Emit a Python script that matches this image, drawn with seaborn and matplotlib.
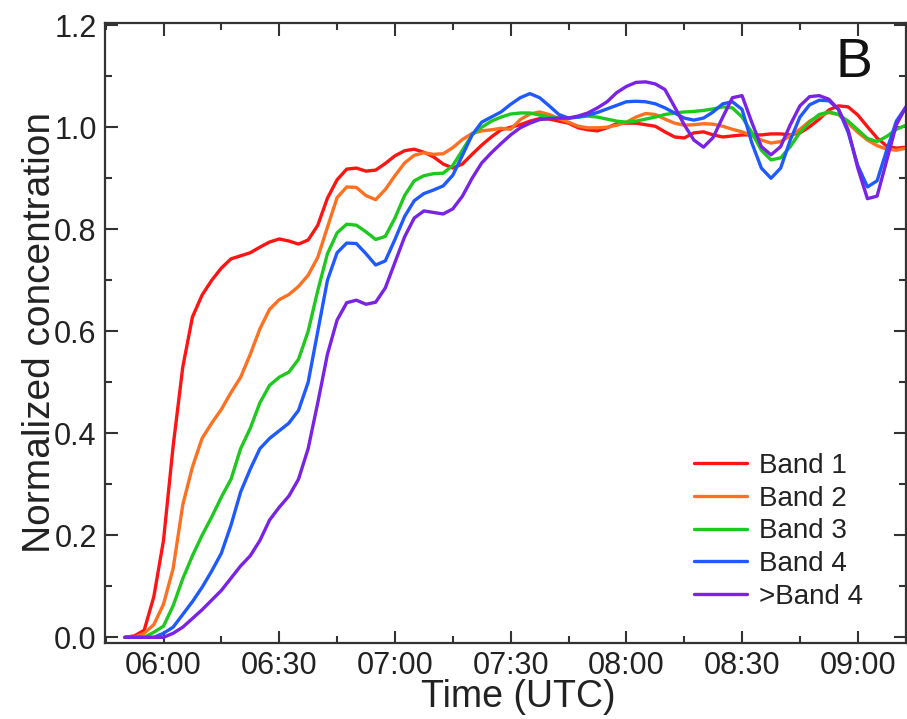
import numpy as np
import pandas as pd
import matplotlib
matplotlib.use("Agg")
import matplotlib.pyplot as plt
import matplotlib.dates as mdates
from matplotlib.ticker import MultipleLocator, FormatStrFormatter
import seaborn as sns

# Sampling times: every 2.5 minutes from 05:50 to 09:12:30 UTC
times = pd.date_range("2000-01-01 05:50:00", "2000-01-01 09:12:30", freq="150s")

band1 = [0.000, 0.003, 0.014, 0.080, 0.190, 0.375, 0.530, 0.628, 0.671, 0.700,
         0.724, 0.742, 0.748, 0.754, 0.765, 0.775, 0.781, 0.777, 0.771, 0.779,
         0.808, 0.861, 0.897, 0.918, 0.920, 0.914, 0.916, 0.929, 0.944, 0.954,
         0.957, 0.951, 0.942, 0.928, 0.920, 0.928, 0.947, 0.965, 0.981, 0.995,
         1.000, 1.005, 1.012, 1.017, 1.016, 1.012, 1.008, 0.999, 0.995, 0.993,
         0.999, 1.007, 1.008, 1.008, 1.005, 1.002, 0.991, 0.981, 0.979, 0.989,
         0.991, 0.985, 0.981, 0.983, 0.985, 0.985, 0.985, 0.987, 0.987, 0.985,
         0.989, 1.001, 1.016, 1.034, 1.042, 1.040, 1.024, 1.001, 0.979, 0.963,
         0.959, 0.961]

band2 = [0.000, 0.000, 0.008, 0.025, 0.065, 0.135, 0.260, 0.334, 0.390, 0.420,
         0.447, 0.480, 0.510, 0.555, 0.605, 0.643, 0.662, 0.672, 0.688, 0.710,
         0.745, 0.804, 0.862, 0.883, 0.882, 0.866, 0.858, 0.878, 0.905, 0.930,
         0.945, 0.950, 0.947, 0.948, 0.960, 0.976, 0.988, 0.993, 0.995, 0.998,
         0.996, 1.015, 1.026, 1.030, 1.025, 1.017, 1.010, 1.002, 0.999, 0.999,
         1.000, 1.004, 1.010, 1.020, 1.027, 1.025, 1.016, 1.008, 1.004, 1.005,
         1.007, 1.006, 1.002, 0.996, 0.991, 0.984, 0.975, 0.969, 0.972, 0.983,
         0.996, 1.012, 1.022, 1.029, 1.025, 1.008, 0.990, 0.975, 0.964, 0.957,
         0.955, 0.959]

band3 = [0.000, 0.000, 0.000, 0.010, 0.022, 0.062, 0.115, 0.160, 0.200, 0.236,
         0.275, 0.310, 0.370, 0.410, 0.460, 0.494, 0.510, 0.520, 0.545, 0.600,
         0.680, 0.752, 0.793, 0.810, 0.808, 0.795, 0.780, 0.786, 0.822, 0.866,
         0.895, 0.905, 0.909, 0.910, 0.925, 0.955, 0.985, 1.000, 1.012, 1.020,
         1.026, 1.028, 1.028, 1.024, 1.020, 1.018, 1.018, 1.020, 1.022, 1.020,
         1.016, 1.012, 1.010, 1.012, 1.016, 1.020, 1.025, 1.028, 1.030, 1.031,
         1.033, 1.036, 1.040, 1.038, 1.020, 0.990, 0.955, 0.936, 0.940, 0.962,
         0.990, 1.010, 1.025, 1.030, 1.025, 1.012, 0.995, 0.978, 0.972, 0.982,
         0.996, 1.004]

band4 = [0.000, 0.000, 0.000, 0.000, 0.008, 0.020, 0.045, 0.070, 0.098, 0.130,
         0.165, 0.220, 0.285, 0.330, 0.370, 0.390, 0.405, 0.420, 0.445, 0.500,
         0.600, 0.700, 0.754, 0.773, 0.772, 0.752, 0.730, 0.738, 0.780, 0.825,
         0.856, 0.870, 0.877, 0.885, 0.906, 0.945, 0.985, 1.010, 1.020, 1.030,
         1.045, 1.058, 1.066, 1.058, 1.042, 1.025, 1.018, 1.020, 1.024, 1.029,
         1.036, 1.043, 1.050, 1.051, 1.050, 1.046, 1.038, 1.028, 1.018, 1.014,
         1.018, 1.030, 1.046, 1.050, 1.035, 0.970, 0.920, 0.900, 0.920, 0.975,
         1.020, 1.044, 1.053, 1.052, 1.035, 0.990, 0.925, 0.883, 0.895, 0.955,
         1.012, 1.040]

band5 = [0.000, 0.000, 0.000, 0.000, 0.000, 0.008, 0.020, 0.037, 0.054, 0.073,
         0.092, 0.116, 0.140, 0.160, 0.190, 0.230, 0.255, 0.277, 0.310, 0.370,
         0.460, 0.555, 0.622, 0.656, 0.661, 0.653, 0.657, 0.685, 0.735, 0.785,
         0.822, 0.836, 0.833, 0.830, 0.840, 0.865, 0.900, 0.930, 0.950, 0.968,
         0.985, 0.999, 1.008, 1.015, 1.017, 1.018, 1.018, 1.022, 1.028, 1.038,
         1.050, 1.068, 1.080, 1.088, 1.089, 1.085, 1.074, 1.040, 1.005, 0.975,
         0.961, 0.980, 1.020, 1.058, 1.062, 1.010, 0.962, 0.946, 0.962, 1.005,
         1.042, 1.060, 1.062, 1.055, 1.035, 0.995, 0.920, 0.860, 0.865, 0.935,
         1.005, 1.040]

labels = ["Band 1", "Band 2", "Band 3", "Band 4", ">Band 4"]
colors = ["#ff1414", "#ff7020", "#1ec81e", "#1e5aff", "#7a22e6"]

frames = []
for lab, vals in zip(labels, [band1, band2, band3, band4, band5]):
    frames.append(pd.DataFrame({"time": times, "conc": vals, "band": lab}))
df = pd.concat(frames, ignore_index=True)

sns.set_theme(style="ticks")
plt.rcParams["font.family"] = ["Liberation Sans", "DejaVu Sans"]

fig = plt.figure(figsize=(9.07, 7.19), dpi=100)
ax = fig.add_axes([105 / 907, 1 - 642.7 / 719, (906 - 105) / 907, (642.7 - 22.7) / 719])

sns.lineplot(data=df, x="time", y="conc", hue="band", hue_order=labels,
             palette=dict(zip(labels, colors)), linewidth=2.4, ax=ax, legend=False,
             solid_joinstyle="round", solid_capstyle="round")

ax.set_xlim(pd.Timestamp("2000-01-01 05:44:50"), pd.Timestamp("2000-01-01 09:12:30"))
ax.set_ylim(-0.0105, 1.205)

ax.xaxis.set_major_locator(mdates.MinuteLocator(byminute=[0, 30]))
ax.xaxis.set_minor_locator(mdates.MinuteLocator(byminute=[15, 45]))
ax.xaxis.set_major_formatter(mdates.DateFormatter("%H:%M"))
ax.yaxis.set_major_locator(MultipleLocator(0.2))
ax.yaxis.set_minor_locator(MultipleLocator(0.1))
ax.yaxis.set_major_formatter(FormatStrFormatter("%.1f"))

ax.tick_params(which="both", direction="in", top=True, right=True,
               width=1.5, color="#333333", labelsize=22, labelcolor="#222222")
ax.tick_params(which="major", length=9, pad=6)
ax.tick_params(which="minor", length=5)
for s in ax.spines.values():
    s.set_linewidth(1.6)
    s.set_color("#333333")

ax.set_xlabel("Time (UTC)", fontsize=27, color="#222222")
ax.xaxis.set_label_coords(0.516, -0.058)
ax.set_ylabel("Normalized concentration", fontsize=28, color="#222222", labelpad=-3)

ax.text(0.935, 0.935, "B", transform=ax.transAxes, fontsize=40,
        ha="center", va="center", color="#111111")

handles = [plt.Line2D([], [], color=c, linewidth=2.4) for c in colors]
ax.legend(handles, labels, loc="upper left", bbox_to_anchor=(694 / 907, 1 - 453 / 719),
          bbox_transform=fig.transFigure, frameon=False, fontsize=20,
          handlelength=1.9, handletextpad=0.45, labelspacing=0.24,
          borderpad=0, borderaxespad=0, labelcolor="#222222")

fig.savefig("out.png", dpi=100)
